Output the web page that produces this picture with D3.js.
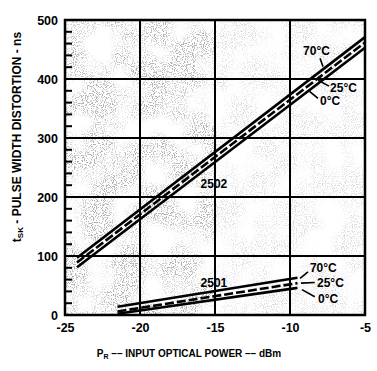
<!DOCTYPE html>
<html>
<head>
<meta charset="utf-8">
<script src="https://cdn.jsdelivr.net/npm/d3@7"></script>
<style>
  html, body { margin: 0; padding: 0; background: #fff; }
  svg text { font-family: "Liberation Sans", Arial, sans-serif; font-weight: bold; fill: #000; }
</style>
</head>
<body>
<svg id="chart" width="377" height="371"></svg>
<script>
// ---- data ----
const xTickValues = [-25, -20, -15, -10, -5];
const yTickValues = [0, 100, 200, 300, 400, 500];
const temperatures = ["70°C", "25°C", "0°C"];

// HFBR-2502 : pulse width distortion vs input power (endpoints of straight lines)
const x2502 = [-24.2, -5];
const y2502_70 = [97, 471];
const y2502_25 = [89, 462];
const y2502_0  = [81, 453];

// HFBR-2501
const x2501 = [-21.5, -9.5];
const y2501_70 = [14, 63];
const y2501_25 = [6, 54];
const y2501_0  = [2, 46];

// ---- layout ----
const svg = d3.select("#chart");
const L = 65, R = 365, T = 20, B = 315;
const x = d3.scaleLinear().domain([-25, -5]).range([L, R]);
const y = d3.scaleLinear().domain([0, 500]).range([B, T]);

// stipple texture (decorative, like the scanned background)
const defs = svg.append("defs");
const f = defs.append("filter").attr("id", "stip").attr("x", 0).attr("y", 0).attr("width", 1).attr("height", 1)
  .attr("filterUnits", "objectBoundingBox");
f.append("feTurbulence").attr("type", "fractalNoise").attr("baseFrequency", 0.9).attr("numOctaves", 1).attr("seed", 4).attr("result", "fine");
f.append("feColorMatrix").attr("in", "fine").attr("type", "matrix")
  .attr("values", "0 0 0 0 0.35  0 0 0 0 0.35  0 0 0 0 0.35  -9 0 0 0 4.4").attr("result", "dots");
f.append("feTurbulence").attr("type", "fractalNoise").attr("baseFrequency", 0.035).attr("numOctaves", 2).attr("seed", 9).attr("result", "coarse");
f.append("feColorMatrix").attr("in", "coarse").attr("type", "matrix")
  .attr("values", "0 0 0 0 0  0 0 0 0 0  0 0 0 0 0  3 0 0 0 -0.9").attr("result", "mask");
f.append("feComposite").attr("in", "dots").attr("in2", "mask").attr("operator", "in");

const tex = svg.append("g").attr("opacity", 0.8);
tex.append("rect").attr("x", x(-25)).attr("y", y(500)).attr("width", x(-15) - x(-25)).attr("height", y(0) - y(500))
  .attr("fill", "#000").attr("filter", "url(#stip)");
tex.append("rect").attr("x", x(-15)).attr("y", y(500)).attr("width", x(-5) - x(-15)).attr("height", y(0) - y(500))
  .attr("fill", "#000").attr("filter", "url(#stip)").attr("opacity", 0.45);

// grid
const grid = svg.append("g").attr("stroke", "#000").attr("stroke-width", 2);
grid.selectAll("line.v").data(xTickValues.slice(1, -1)).join("line")
  .attr("x1", d => x(d)).attr("x2", d => x(d)).attr("y1", y(500)).attr("y2", y(0));
grid.selectAll("line.h").data(yTickValues.slice(1, -1)).join("line")
  .attr("x1", x(-25)).attr("x2", x(-5)).attr("y1", d => y(d)).attr("y2", d => y(d));

// minor inside ticks on left axis
const minor = y.ticks(25).filter(v => v % 100 !== 0);
svg.append("g").selectAll("line").data(minor).join("line")
  .attr("x1", x(-25)).attr("x2", x(-25) + 7).attr("y1", d => y(d)).attr("y2", d => y(d))
  .attr("stroke", "#000").attr("stroke-width", 2);

// frame
svg.append("rect").attr("x", x(-25)).attr("y", y(500)).attr("width", x(-5) - x(-25)).attr("height", y(0) - y(500))
  .attr("fill", "none").attr("stroke", "#000").attr("stroke-width", 2.5);

// axes (labels only)
const xAxis = d3.axisBottom(x).tickValues(xTickValues).tickSize(0).tickPadding(8).tickFormat(d => d.toString());
const gx = svg.append("g").attr("transform", `translate(0,${B})`).call(xAxis);
gx.select(".domain").remove();
gx.selectAll("text").attr("font-size", 12.5).style("font-family", "Liberation Sans, Arial, sans-serif").style("font-weight", "bold");

const yAxis = d3.axisLeft(y).tickValues(yTickValues).tickSize(0).tickPadding(7);
const gy = svg.append("g").attr("transform", `translate(${L},0)`).call(yAxis);
gy.select(".domain").remove();
gy.selectAll("text").attr("font-size", 12.5).style("font-family", "Liberation Sans, Arial, sans-serif").style("font-weight", "bold");

// series lines
const line = d3.line().x(d => x(d[0])).y(d => y(d[1]));
function drawSet(xs, ysList) {
  ysList.forEach((ys, i) => {
    svg.append("path").datum(xs.map((v, j) => [v, ys[j]]))
      .attr("d", line).attr("fill", "none").attr("stroke", "#000")
      .attr("stroke-width", 2.6)
      .attr("stroke-dasharray", i === 1 ? "9,3" : null);
  });
}
drawSet(x2502, [y2502_70, y2502_25, y2502_0]);
drawSet(x2501, [y2501_70, y2501_25, y2501_0]);

// annotations
function label(txt, xv, yv, anchor) {
  svg.append("text").attr("x", x(xv)).attr("y", y(yv)).attr("font-size", 12)
    .attr("text-anchor", anchor || "start").text(txt);
}
function leader(x1, y1, x2, y2) {
  svg.append("line").attr("x1", x(x1)).attr("y1", y(y1)).attr("x2", x(x2)).attr("y2", y(y2))
    .attr("stroke", "#000").attr("stroke-width", 1.6);
}
label("2502", -15.07, 215, "middle");
label("2501", -15.07, 47.5, "middle");

// 2502 temperature labels
label(temperatures[0], -9.13, 441);
leader(-8.0, 435, -7.8, 421);
label(temperatures[1], -7.33, 378);
leader(-8.13, 398, -7.4, 388);
label(temperatures[2], -8.0, 356);
leader(-8.7, 379, -8.13, 367);

// 2501 temperature labels
label(temperatures[0], -8.67, 73);
leader(-9.33, 62, -8.8, 73);
label(temperatures[1], -8.2, 47.5);
leader(-9.27, 54, -8.35, 55);
label(temperatures[2], -8.13, 20);
leader(-9.2, 43, -8.35, 31);

// axis titles
const xt = svg.append("text").attr("x", 189).attr("y", 357).attr("font-size", 10).attr("text-anchor", "middle");
xt.append("tspan").text("P");
xt.append("tspan").attr("font-size", 7).attr("dy", 2).text("R");
xt.append("tspan").attr("dy", -2).text(" –– INPUT OPTICAL POWER –– dBm");

const yt = svg.append("text").attr("transform", "translate(21,137) rotate(-90)").attr("font-size", 12).attr("text-anchor", "middle");
yt.append("tspan").text("t");
yt.append("tspan").attr("font-size", 8).attr("dy", 2).text("SK");
yt.append("tspan").attr("dy", -2).text("  -  PULSE WIDTH DISTORTION  -  ns");
</script>
</body>
</html>
